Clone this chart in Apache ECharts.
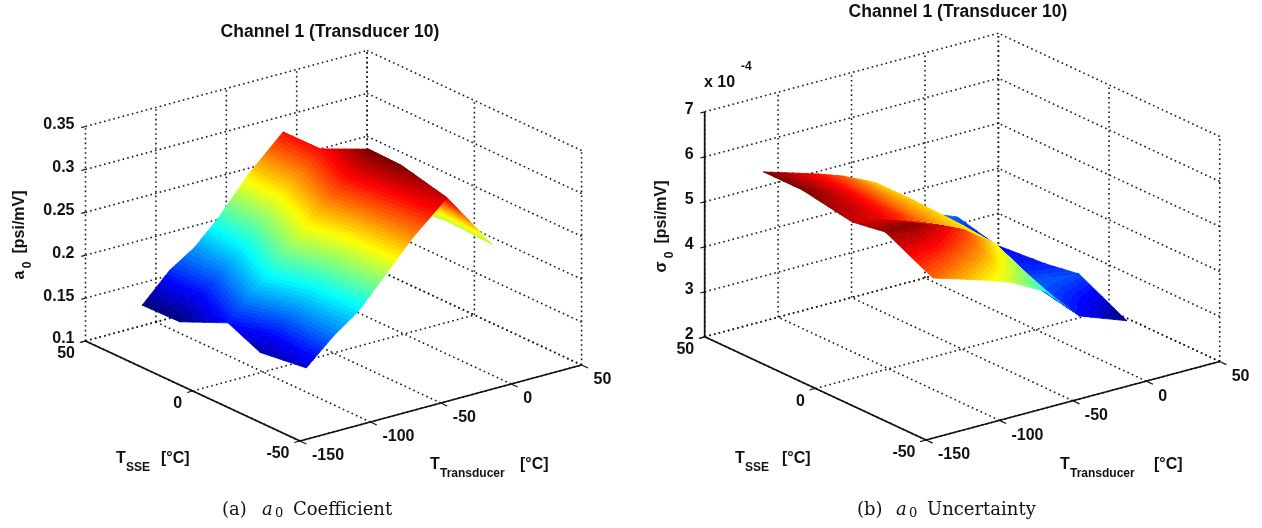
<!DOCTYPE html>
<html>
<head>
<meta charset="utf-8">
<style>html,body{margin:0;padding:0;background:#fff}#chart{width:1262px;height:528px}</style>
<script src="https://cdn.jsdelivr.net/npm/echarts@6/dist/echarts.min.js"></script>
</head>
<body>
<div id="chart"></div>
<script>
// surface grid
const tTransducer = [-128, -108.5, -90.7, -74.4, -52, -28, 4];
const tSse = [38, 20.5, -2, -17, -38.5];

// a0 [psi/mV], one row per tTransducer value
const a0Row1 = [0.146, 0.147, 0.172, 0.155, 0.162];
const a0Row2 = [0.178, 0.176, 0.202, 0.188, 0.191];
const a0Row3 = [0.197, 0.202, 0.230, 0.217, 0.212];
const a0Row4 = [0.223, 0.229, 0.257, 0.245, 0.241];
const a0Row5 = [0.266, 0.268, 0.292, 0.2855, 0.281];
const a0Row6 = [0.3035, 0.304, 0.330, 0.329, 0.316];
const a0Row7 = [0.245, 0.245, 0.245, 0.25, 0.2475];

// sigma0 [1e-4 psi/mV]
const sigmaRow1 = [5.747, 5.747, 5.553, 5.673, 5.144];
const sigmaRow2 = [5.553, 5.55, 5.45, 5.70, 4.951];
const sigmaRow3 = [5.376, 5.35, 5.27, 5.49, 4.767];
const sigmaRow4 = [5.189, 5.12, 5.05, 5.25, 4.576];
const sigmaRow5 = [4.85, 4.85, 4.8, 4.72, 4.191];
const sigmaRow6 = [4.0, 3.55, 3.5, 3.65, 3.427];
const sigmaRow7 = [3.596, 3.373, 3.467, 3.589, 3.044];

const tTransducerTicks = [-150, -100, -50, 0, 50];
const tSseTicks = [-50, 0, 50];
const a0Ticks = [0.1, 0.15, 0.2, 0.25, 0.3, 0.35];
const a0TickLabels = ['0.1', '0.15', '0.2', '0.25', '0.3', '0.35'];
const sigmaTicks = [2, 3, 4, 5, 6, 7];
const sigmaTickLabels = ['2', '3', '4', '5', '6', '7'];

// where each 3d box lands on the page
const boxA = {
  front: [300, 441], tVec: [281.6, -76], sVec: [-214.5, -100], zVec: [0, -214.5],
  zTicks: a0Ticks, zLabels: a0TickLabels, solidZ: false,
  rows: [a0Row1, a0Row2, a0Row3, a0Row4, a0Row5, a0Row6, a0Row7]
};
const boxB = {
  front: [926, 440], tVec: [293.7, -78.5], sVec: [-221.3, -103.2], zVec: [0, -225],
  zTicks: sigmaTicks, zLabels: sigmaTickLabels, solidZ: true,
  rows: [sigmaRow1, sigmaRow2, sigmaRow3, sigmaRow4, sigmaRow5, sigmaRow6, sigmaRow7]
};

const tMin = tTransducerTicks[0], tMax = tTransducerTicks[tTransducerTicks.length - 1];
const sMin = tSseTicks[0], sMax = tSseTicks[tSseTicks.length - 1];

function project(box, t, s, z) {
  const zMin = box.zTicks[0], zMax = box.zTicks[box.zTicks.length - 1];
  const ft = (t - tMin) / (tMax - tMin), fs = (s - sMin) / (sMax - sMin), fz = (z - zMin) / (zMax - zMin);
  return [
    box.front[0] + ft * box.tVec[0] + fs * box.sVec[0] + fz * box.zVec[0],
    box.front[1] + ft * box.tVec[1] + fs * box.sVec[1] + fz * box.zVec[1]
  ];
}

// matlab jet, 64 hard levels
function jetLevel(k) {
  const t = k / 63;
  const c = function (d) { return Math.round(255 * Math.max(0, Math.min(1, 1.5 - Math.abs(4 * t - d)))); };
  return 'rgb(' + c(3) + ',' + c(2) + ',' + c(1) + ')';
}
const jetStops = [];
for (let k = 0; k < 64; k++) {
  jetStops.push({ offset: k / 64, color: jetLevel(k) });
  jetStops.push({ offset: (k + 1) / 64, color: jetLevel(k) });
}

// fill of one triangle: gradient running along the slope of z on the page
function triangleFill(a, b, c, lo, hi) {
  const ux = b.p[0] - a.p[0], uy = b.p[1] - a.p[1], vx = c.p[0] - a.p[0], vy = c.p[1] - a.p[1];
  const det = ux * vy - uy * vx;
  if (Math.abs(det) < 0.01) return jetLevel(Math.min(63, Math.floor(((a.z + b.z + c.z) / 3 - lo) / (hi - lo) * 64)));
  const dzu = b.z - a.z, dzv = c.z - a.z;
  const gx = (dzu * vy - dzv * uy) / det, gy = (dzv * ux - dzu * vx) / det;
  const g2 = gx * gx + gy * gy;
  if (g2 < 1e-14) return jetLevel(Math.min(63, Math.floor((a.z - lo) / (hi - lo) * 64)));
  const k0 = (lo - a.z) / g2, k1 = (hi - a.z) / g2;
  return new echarts.graphic.LinearGradient(a.p[0] + gx * k0, a.p[1] + gy * k0, a.p[0] + gx * k1, a.p[1] + gy * k1, jetStops, true);
}

// surface, one data item per grid cell
function surfaceSeries(box) {
  const flat = box.rows.reduce(function (a, r) { return a.concat(r); }, []);
  const lo = Math.min.apply(null, flat), hi = Math.max.apply(null, flat);
  const cells = [];
  // far cells first so the near ones paint over them
  for (let i = tTransducer.length - 2; i >= 0; i--) {
    for (let j = 0; j < tSse.length - 1; j++) cells.push([i, j]);
  }
  const n = 4;
  return {
    type: 'custom', silent: true, clip: false, animation: false, z: 3,
    data: cells,
    renderItem: function (params, api) {
      const i = api.value(0), j = api.value(1), kids = [];
      const at = function (a, b) {
        const t = tTransducer[i] + a * (tTransducer[i + 1] - tTransducer[i]);
        const s = tSse[j] + b * (tSse[j + 1] - tSse[j]);
        const z = (1 - a) * ((1 - b) * box.rows[i][j] + b * box.rows[i][j + 1]) +
          a * ((1 - b) * box.rows[i + 1][j] + b * box.rows[i + 1][j + 1]);
        return { z: z, p: api.coord(project(box, t, s, z)) };
      };
      const tri = function (p, q, r) {
        const fill = triangleFill(p, q, r, lo, hi);
        kids.push({
          type: 'polygon', shape: { points: [p.p, q.p, r.p] },
          style: { fill: fill, stroke: fill, lineWidth: 0.8 }
        });
      };
      for (let a = n - 1; a >= 0; a--) {
        for (let b = 0; b < n; b++) {
          const p1 = at(a / n, b / n), p2 = at((a + 1) / n, b / n), p3 = at((a + 1) / n, (b + 1) / n), p4 = at(a / n, (b + 1) / n);
          tri(p1, p2, p3);
          tri(p1, p3, p4);
        }
      }
      return { type: 'group', children: kids };
    }
  };
}

// dotted walls and floor, solid axes
function frameSeries(box) {
  const zLo = box.zTicks[0], zHi = box.zTicks[box.zTicks.length - 1];
  const segs = [];
  const add = function (a, b, kind) { segs.push([a[0], a[1], a[2], b[0], b[1], b[2], kind]); };
  tTransducerTicks.forEach(function (t) {
    add([t, sMax, zLo], [t, sMax, zHi], 0);
    add([t, sMin, zLo], [t, sMax, zLo], 0);
    add([t, sMin, zLo], [t, sMin - 3, zLo], 1);
  });
  tSseTicks.forEach(function (s) {
    add([tMax, s, zLo], [tMax, s, zHi], 0);
    add([tMin, s, zLo], [tMax, s, zLo], 0);
    add([tMin, s, zLo], [tMin - 4, s, zLo], 1);
  });
  box.zTicks.forEach(function (z) {
    add([tMin, sMax, z], [tMax, sMax, z], 0);
    add([tMax, sMin, z], [tMax, sMax, z], 0);
    add([tMin, sMax, z], [tMin - 3, sMax, z], 1);
  });
  add([tMin, sMin, zLo], [tMin, sMax, zLo], 2);
  add([tMin, sMin, zLo], [tMax, sMin, zLo], 2);
  if (box.solidZ) add([tMin, sMax, zLo], [tMin, sMax, zHi], 2);
  return {
    type: 'custom', silent: true, clip: false, animation: false, z: 2,
    data: segs,
    renderItem: function (params, api) {
      const a = api.coord(project(box, api.value(0), api.value(1), api.value(2)));
      const b = api.coord(project(box, api.value(3), api.value(4), api.value(5)));
      const kind = api.value(6);
      return {
        type: 'line', shape: { x1: a[0], y1: a[1], x2: b[0], y2: b[1] },
        style: kind === 0
          ? { stroke: '#1a1a1a', lineWidth: 1.6, lineDash: [1.6, 3.2] }
          : { stroke: '#111', lineWidth: kind === 2 ? 1.7 : 1.2 }
      };
    }
  };
}

// tick labels next to the axes
function labelSeries(box) {
  const zLo = box.zTicks[0];
  const items = [];
  tTransducerTicks.forEach(function (t) { items.push([t, sMin, zLo, String(t), 12, 15, 'left']); });
  tSseTicks.forEach(function (s) { items.push([tMin, s, zLo, String(s), -10.5, 13, 'right']); });
  box.zTicks.forEach(function (z, k) { items.push([tMin, sMax, z, box.zLabels[k], -11, -2, 'right']); });
  return {
    type: 'custom', silent: true, clip: false, animation: false, z: 4,
    data: items.map(function (d, k) { return [k]; }),
    renderItem: function (params, api) {
      const d = items[api.value(0)];
      const p = api.coord(project(box, d[0], d[1], d[2]));
      return {
        type: 'text',
        style: {
          x: p[0] + d[4], y: p[1] + d[5], text: d[3], fill: '#111',
          font: 'bold 16px "Liberation Sans"', align: d[6], verticalAlign: 'middle'
        }
      };
    }
  };
}

function txt(x, y, text, size, opts) {
  const o = opts || {};
  return {
    type: 'text', x: x, y: y, rotation: o.rot || 0, silent: true,
    style: {
      text: text, fill: '#111', align: o.align || 'left', verticalAlign: 'middle',
      font: (o.font || 'bold ' + size + 'px "Liberation Sans"')
    }
  };
}
const serif = function (size, italic) { return (italic ? 'italic ' : '') + size + 'px "DejaVu Serif"'; };

const chart = echarts.init(document.getElementById('chart'), null, { renderer: 'canvas' });
chart.setOption({
  animation: false,
  backgroundColor: '#fff',
  grid: { left: 0, right: 0, top: 0, bottom: 0 },
  xAxis: { type: 'value', min: 0, max: 1262, show: false },
  yAxis: { type: 'value', min: 0, max: 528, inverse: true, show: false },
  graphic: [
    txt(330, 32, 'Channel 1 (Transducer 10)', 17.5, { align: 'center' }),
    txt(958, 12, 'Channel 1 (Transducer 10)', 17.5, { align: 'center' }),

    txt(20, 275, 'a', 16, { rot: Math.PI / 2, align: 'center' }),
    txt(28, 265, '0', 12, { rot: Math.PI / 2, align: 'center' }),
    txt(20, 222, '[psi/mV]', 16, { rot: Math.PI / 2, align: 'center' }),
    txt(662, 267, 'σ', 16, { rot: Math.PI / 2, align: 'center' }),
    txt(670, 255, '0', 12, { rot: Math.PI / 2, align: 'center' }),
    txt(662, 212, '[psi/mV]', 16, { rot: Math.PI / 2, align: 'center' }),

    txt(704, 83, 'x 10', 16),
    txt(741, 67, '-4', 12),

    txt(116, 459, 'T', 16), txt(126, 468, 'SSE', 12), txt(161, 459, '[°C]', 16),
    txt(735, 459, 'T', 16), txt(745, 468, 'SSE', 12), txt(782, 459, '[°C]', 16),
    txt(430, 465, 'T', 16), txt(440, 474, 'Transducer', 12), txt(520, 465, '[°C]', 16),
    txt(1060, 465, 'T', 16), txt(1070, 474, 'Transducer', 12), txt(1154, 465, '[°C]', 16),

    txt(222, 510, '(a)', 0, { font: serif(18) }),
    txt(262, 510, 'a', 0, { font: serif(18, true) }),
    txt(275, 514, '0', 0, { font: serif(13) }),
    txt(293, 510, 'Coefficient', 0, { font: serif(18) }),
    txt(857, 510, '(b)', 0, { font: serif(18) }),
    txt(896, 510, 'a', 0, { font: serif(18, true) }),
    txt(909, 514, '0', 0, { font: serif(13) }),
    txt(927, 510, 'Uncertainty', 0, { font: serif(18) })
  ],
  series: [
    frameSeries(boxA), surfaceSeries(boxA), labelSeries(boxA),
    frameSeries(boxB), surfaceSeries(boxB), labelSeries(boxB)
  ]
});
</script>
</body>
</html>
